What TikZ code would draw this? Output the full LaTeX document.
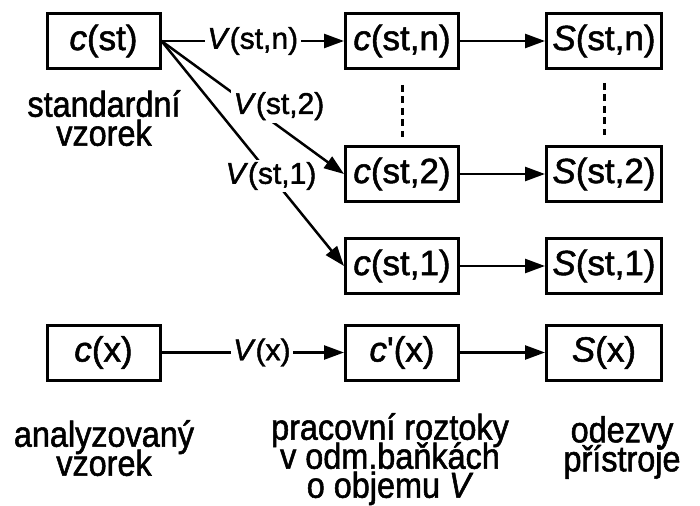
\documentclass[tikz,border=0pt]{standalone}
\usepackage{fontspec}
\setmainfont[FakeBold=1.5]{Liberation Sans}
\newfontfamily\narrowfont[FakeStretch=0.9,FakeBold=1.5]{Liberation Sans}
\usetikzlibrary{arrows.meta}
\begin{document}
\begin{tikzpicture}[x=1pt,y=-1pt,
  box/.style={draw, line width=3pt, minimum width=113pt, minimum height=55pt,
    inner sep=0pt, font=\fontsize{35}{40}\selectfont},
  arr/.style={line width=2.5pt, -{Triangle[length=20pt,width=14pt]}},
  lbl/.style={fill=white, inner sep=2.5pt, font=\fontsize{30}{34}\selectfont},
  captext/.style={align=center, inner sep=0pt, anchor=north,
    font={\narrowfont\fontsize{36}{29}\selectfont\lineskiplimit=-100pt}},
  dots/.style={line width=3pt, dash pattern=on 7pt off 4.5pt}]
\useasboundingbox (0,0) rectangle (700,505);

% boxes: standard, working solutions, responses
\node[box] (cst) at (103.5,41) {\textit{c}(st)};
\node[box] (cn)  at (402,41)   {\textit{c}(st,n)};
\node[box] (c2)  at (402,174)  {\textit{c}(st,2)};
\node[box] (c1)  at (402,266)  {\textit{c}(st,1)};
\node[box, minimum width=115pt] (sn) at (604,41)  {\textit{S}(st,n)};
\node[box, minimum width=115pt] (s2) at (604,174) {\textit{S}(st,2)};
\node[box, minimum width=115pt] (s1) at (604,266) {\textit{S}(st,1)};

% analysed sample row
\node[box] (cx)  at (103.5,352.5) {\textit{c}(x)};
\node[box] (cpx) at (402,352.5)   {\textit{c}\textquotesingle(x)};
\node[box, minimum width=115pt] (sx) at (604,352.5) {\textit{S}(x)};

% dilutions of the standard
\draw[arr] (cst.east) -- node[lbl, pos=0.5] {\textit{V}(st,n)} (cn);
\draw[arr] (cst.east) -- node[lbl, pos=0.49, xshift=28pt] {\textit{V}(st,2)} (c2.west);
\draw[arr] (cst.east) -- node[lbl, pos=0.6] {\textit{V}(st,1)} (c1.west);
\draw[arr] (cx) -- node[lbl, pos=0.55] {\textit{V}(x)} (cpx);

% measurement
\draw[arr] (cn) -- (sn);
\draw[arr] (c2) -- (s2);
\draw[arr] (c1) -- (s1);
\draw[arr] (cpx) -- (sx);

% omitted intermediate levels
\draw[dots, shorten <=15pt, shorten >=8pt] (cn) -- (c2);
\draw[dots, shorten <=13pt, shorten >=10pt] (sn) -- (s2);

% captions
\node[captext] (lstd) at (104,90) {standardní\\vzorek};
\node[captext] (lx)   at (104,420) {analyzovaný\\vzorek};
\node[captext] (lsol) at (390,413) {pracovní roztoky\\v odm.baňkách\\o objemu \textit{V}};
\node[captext] (lsig) at (622,416) {odezvy\\přístroje};
\end{tikzpicture}
\end{document}
